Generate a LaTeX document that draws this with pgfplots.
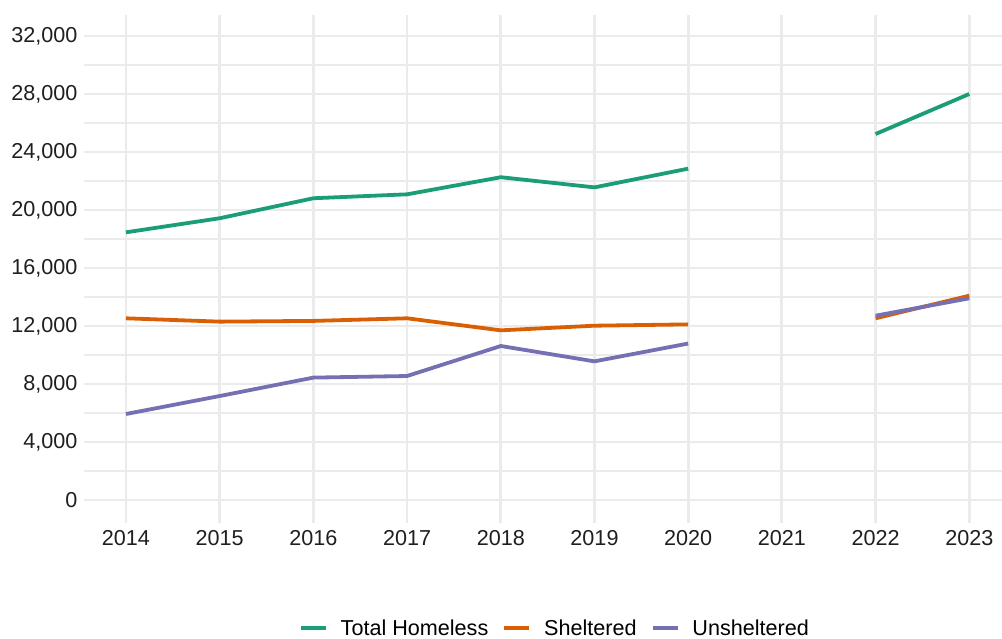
\documentclass[border=0pt]{standalone}
\usepackage{pgfplots}
\pgfplotsset{compat=1.18}
\usepackage{fontspec}
\setmainfont{Liberation Sans}
\definecolor{cTot}{HTML}{1B9E77}
\definecolor{cShe}{HTML}{D95F02}
\definecolor{cUns}{HTML}{7570B3}
\definecolor{gridc}{HTML}{EBEBEB}
\begin{document}
\begin{tikzpicture}
\path[use as bounding box] (0pt,0pt) rectangle (1002pt,639pt);
\begin{axis}[
  at={(84pt,116.3pt)}, anchor=south west,
  scale only axis, width=918pt, height=507.7pt,
  xmin=2013.552, xmax=2023.349, ymin=-1566, ymax=33448,
  axis line style={draw=none},
  tick style={draw=none},
  major tick length=0pt, minor tick length=0pt,
  xtick={2014,2015,...,2023},
  ytick={0,4000,...,32000},
  minor ytick={2000,6000,...,30000},
  scaled y ticks=false,
  grid=both,
  major grid style={color=gridc, line width=2.8pt},
  minor grid style={color=gridc, line width=1.4pt},
  /pgf/number format/assume math mode=true,
  tick label style={font=\fontsize{21.6pt}{26pt}\selectfont, text=black!88},
  yticklabel style={/pgf/number format/fixed, /pgf/number format/1000 sep={,}, xshift=-3pt},
  xticklabel style={/pgf/number format/1000 sep={}, yshift=-4pt},
  unbounded coords=jump,
  legend columns=3,
  legend style={draw=none, fill=none, at={(0.5119,-0.2074)}, anchor=center,
    font=\fontsize{21.6pt}{26pt}\selectfont,
    nodes={inner sep=0pt},
    /tikz/every odd column/.append style={column sep=13pt},
    /tikz/every even column/.append style={column sep=14pt}},
  legend image code/.code={\draw[#1, line width=3.8pt] (0pt,0pt) -- (25pt,0pt);},
  every axis plot/.append style={line width=3.8pt, line join=round},
]
\addplot[cTot, no markers] coordinates {
 (2014,18460) (2015,19430) (2016,20810) (2017,21080) (2018,22260)
 (2019,21560) (2020,22850) (2021,nan) (2022,25240) (2023,28000)};
\addlegendentry{Total Homeless}
\addplot[cShe, no markers] coordinates {
 (2014,12530) (2015,12300) (2016,12350) (2017,12530) (2018,11700)
 (2019,12020) (2020,12110) (2021,nan) (2022,12530) (2023,14090)};
\addlegendentry{Sheltered}
\addplot[cUns, no markers] coordinates {
 (2014,5930) (2015,7170) (2016,8440) (2017,8550) (2018,10620)
 (2019,9560) (2020,10790) (2021,nan) (2022,12710) (2023,13910)};
\addlegendentry{Unsheltered}
\end{axis}
\end{tikzpicture}
\end{document}
